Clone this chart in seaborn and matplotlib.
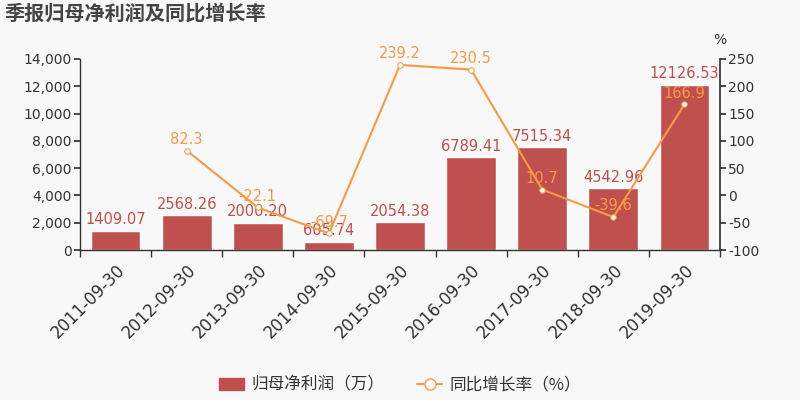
import matplotlib
matplotlib.use("Agg")
import matplotlib.pyplot as plt
import seaborn as sns
import numpy as np
import pandas as pd
from matplotlib.ticker import FuncFormatter, FixedLocator
from matplotlib.lines import Line2D
from matplotlib.patches import Patch

dates = ["2011-09-30", "2012-09-30", "2013-09-30", "2014-09-30", "2015-09-30",
         "2016-09-30", "2017-09-30", "2018-09-30", "2019-09-30"]
profit = [1409.07, 2568.26, 2000.20, 605.74, 2054.38, 6789.41, 7515.34, 4542.96, 12126.53]
growth = [np.nan, 82.3, -22.1, -69.7, 239.2, 230.5, 10.7, -39.6, 166.9]

sns.set_theme(style="white")
plt.rcParams['font.family'] = ['DejaVu Sans', 'Noto Sans CJK SC']
plt.rcParams['axes.unicode_minus'] = False

BG = "#f8f8f8"
BAR = "#c0504d"
LINE = "#f59a45"
TXT = "#333333"
CJK = ['Noto Sans CJK SC', 'DejaVu Sans']

fig = plt.figure(figsize=(8, 4), dpi=100, facecolor=BG)
ax = fig.add_axes([0.1, 0.375, 0.8, 0.4775])
ax.set_facecolor(BG)

df = pd.DataFrame({"date": dates, "profit": profit, "growth": growth})
df["pos"] = [dates.index(d) for d in df["date"]]

sns.barplot(data=df, x="date", y="profit", color=BAR, saturation=1, width=0.7, ax=ax)
ax.set_ylim(0, 14000)
ax.set_xlim(-0.5, len(dates) - 0.5)
ax.yaxis.set_major_locator(FixedLocator(np.arange(0, 14001, 2000)))
ax.yaxis.set_major_formatter(FuncFormatter(lambda v, p: f"{int(v):,}"))
ax.set_xlabel("")
ax.set_ylabel("")
for s in ["top", "right"]:
    ax.spines[s].set_visible(False)
for s in ["left", "bottom"]:
    ax.spines[s].set_color(TXT)
    ax.spines[s].set_linewidth(1)
ax.tick_params(axis="y", left=True, length=4, color=TXT, labelsize=10, labelcolor=TXT, pad=2)
ax.tick_params(axis="x", which="major", bottom=False, labelsize=12, labelcolor=TXT, pad=2)
ax.set_xticks(np.arange(-0.5, len(dates), 1), minor=True)
ax.tick_params(axis="x", which="minor", bottom=True, length=5, color=TXT)
for lab in ax.get_xticklabels():
    lab.set_rotation(45)
    lab.set_ha("right")
    lab.set_rotation_mode("anchor")

for i, v in enumerate(profit):
    ax.text(i, v + 250, f"{v:.2f}", ha="center", va="bottom", color=BAR, fontsize=10.5)

ax2 = ax.twinx()
sns.lineplot(data=df, x="pos", y="growth", color=LINE, lw=1.5, marker="o",
             markersize=4, markerfacecolor="white", markeredgecolor=LINE, ax=ax2)
ax2.set_ylim(-100, 250)
ax2.yaxis.set_major_locator(FixedLocator(np.arange(-100, 251, 50)))
ax2.set_xlim(-0.5, len(dates) - 0.5)
ax2.set_xlabel("")
ax2.set_ylabel("")
for s in ["top", "left", "bottom"]:
    ax2.spines[s].set_visible(False)
ax2.spines["right"].set_color(TXT)
ax2.tick_params(axis="y", right=True, length=4, color=TXT, labelsize=10, labelcolor=TXT, pad=2)
for i, g in enumerate(growth):
    if not np.isnan(g):
        ax2.text(i, g + 7, f"{g:.1f}", ha="center", va="bottom", color=LINE, fontsize=10.5)

fig.text(0.9, 0.9, "%", ha="center", va="center", fontsize=10, color=TXT)
fig.text(0.006, 0.967, "季报归母净利润及同比增长率", ha="left", va="center",
         fontsize=14.5, fontweight="bold", color="#444444", family=CJK)

handles = [Patch(facecolor=BAR, edgecolor=BAR, label="归母净利润（万）"),
           Line2D([0], [0], color=LINE, marker="o", markersize=8, markerfacecolor="white",
                  markeredgecolor=LINE, lw=1.5, label="同比增长率（%）")]
leg = fig.legend(handles=handles, loc="center", bbox_to_anchor=(0.5, 0.037), ncol=2,
                 frameon=False, handlelength=1.5, handletextpad=0.4,
                 columnspacing=2.0, labelcolor=TXT,
                 prop={"family": CJK, "size": 12})

fig.savefig("out.png", dpi=100, facecolor=BG)
